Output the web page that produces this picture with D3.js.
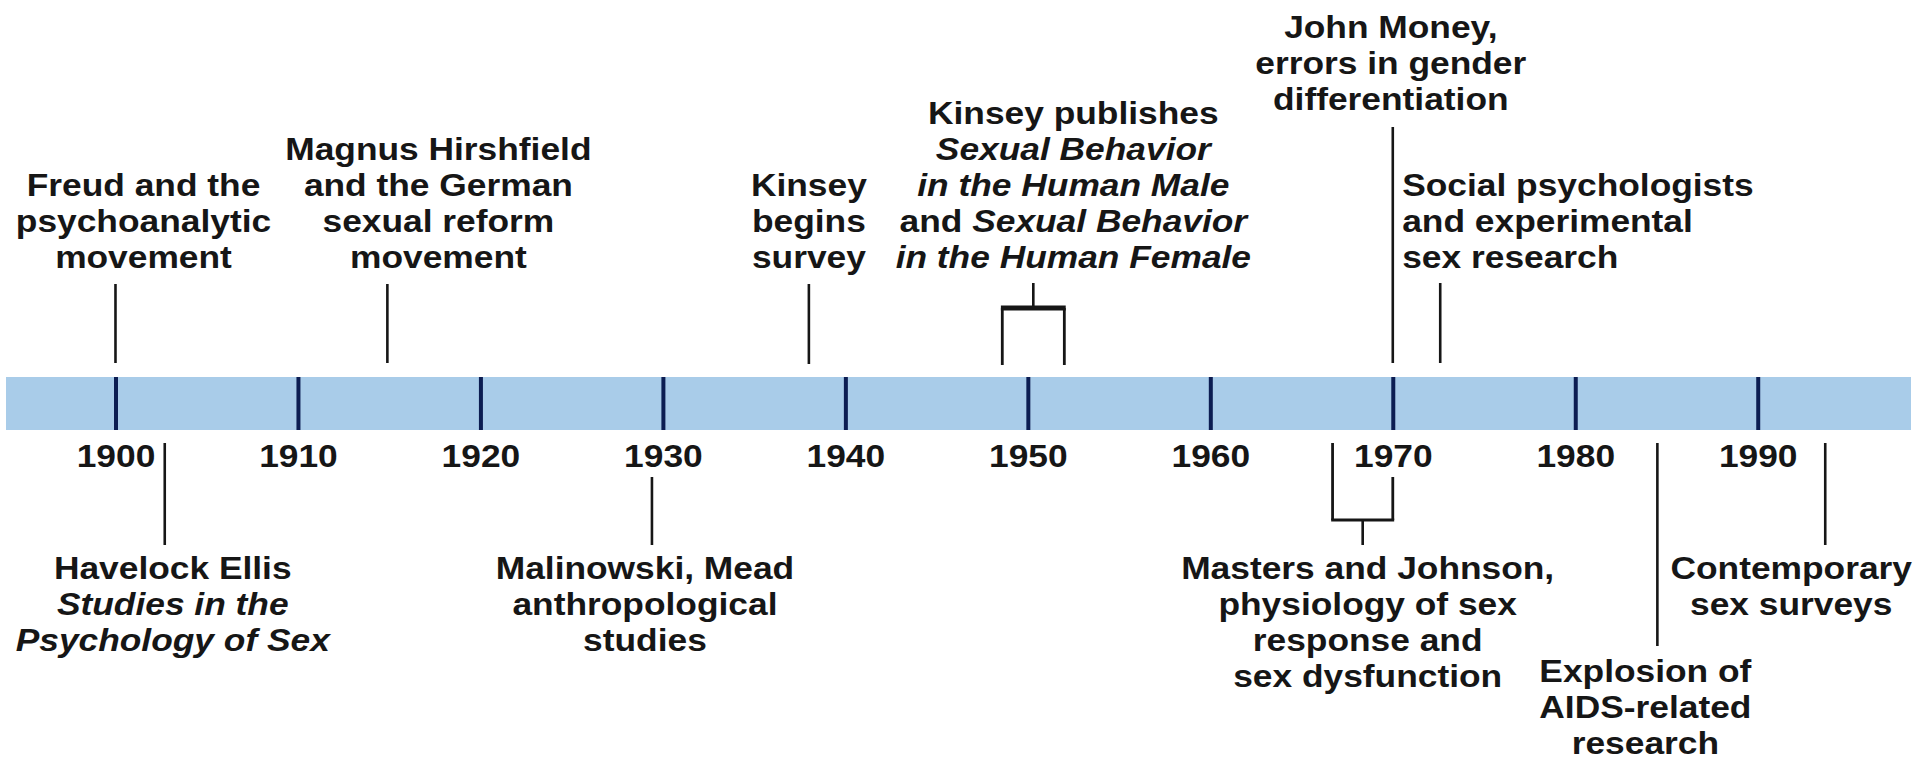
<!DOCTYPE html>
<html>
<head>
<meta charset="utf-8">
<script src="https://cdn.jsdelivr.net/npm/d3@7"></script>
<style>
  html, body { margin: 0; padding: 0; background: #ffffff; }
  svg { display: block; }
</style>
</head>
<body>
<svg id="chart" width="1917" height="761"></svg>
<script>
// ---------------- DATA ----------------
const tickYears = [1900, 1910, 1920, 1930, 1940, 1950, 1960, 1970, 1980, 1990];
const timelineExtent = [1894, 1998.4];

const eventNames = [
  "Freud", "Hirshfield", "Kinsey survey", "Kinsey publishes", "John Money",
  "Social psychologists", "Havelock Ellis", "Malinowski, Mead",
  "Masters and Johnson", "AIDS research", "Contemporary surveys"
];
const eventYears = [
  [1900], [1914.9], [1938], [1948.6, 1952], [1970],
  [1972.6], [1902.7], [1929.4], [1966.7, 1970], [1984.5], [1993.7]
];
const eventSides = [
  "above", "above", "above", "above", "above",
  "above", "below", "below", "below", "below", "below"
];
// *...* marks italic text
const eventLabels = [
  ["Freud and the", "psychoanalytic", "movement"],
  ["Magnus Hirshfield", "and the German", "sexual reform", "movement"],
  ["Kinsey", "begins", "survey"],
  ["Kinsey publishes", "*Sexual Behavior*", "*in the Human Male*", "and *Sexual Behavior*", "*in the Human Female*"],
  ["John Money,", "errors in gender", "differentiation"],
  ["Social psychologists", "and experimental", "sex research"],
  ["Havelock Ellis", "*Studies in the*", "*Psychology of Sex*"],
  ["Malinowski, Mead", "anthropological", "studies"],
  ["Masters and Johnson,", "physiology of sex", "response and", "sex dysfunction"],
  ["Explosion of", "AIDS-related", "research"],
  ["Contemporary", "sex surveys"]
];

// ---------------- LAYOUT (pixels, not data) ----------------
const W = 1917, H = 761;
const bandTop = 377, bandBottom = 430;
const lineGap = 36;
const fontSize = 31;
const stretchX = 1.14;
const labelDx = [28, 51, 0, 40, -2, -38, 8, -7, 5, -12, -34];
const labelAnchor = ["middle","middle","middle","middle","middle","start","middle","middle","middle","middle","middle"];
const labelFirstBaseline = [196, 160, 196, 124, 38, 196, 579, 579, 579, 682, 579];
// single leader lines: [y1, y2]
const leaderSpan = [
  [284, 363], [284, 363], [284, 364], null, [127, 363],
  [283, 363], [443, 545], [477, 545], null, [443, 646], [443, 545]
];
// brackets: legTops, legBottoms, barY, stem [y1,y2], barWidth
const bracketLayout = {
  3: { legTop: [308, 308], legBottom: [365, 365], barY: 308, stem: [283, 308], barW: 5 },
  8: { legTop: [443, 477], legBottom: [520, 520], barY: 520, stem: [520, 545], barW: 3 }
};

const bandColor = "#a9cce9";
const tickColor = "#0c1d52";
const inkColor = "#161616";
const fontFamily = "'Liberation Sans', Arial, Helvetica, sans-serif";

// ---------------- DRAW ----------------
const svg = d3.select("#chart");
const x = d3.scaleLinear().domain(timelineExtent).range([6, 1911]);

// band
svg.append("rect")
  .attr("x", x(timelineExtent[0]))
  .attr("y", bandTop)
  .attr("width", x(timelineExtent[1]) - x(timelineExtent[0]))
  .attr("height", bandBottom - bandTop)
  .attr("fill", bandColor);

// axis: ticks inside band + year labels
const axis = d3.axisBottom(x)
  .tickValues(tickYears)
  .tickSize(bandBottom - bandTop)
  .tickPadding(15)
  .tickFormat(d3.format("d"));

const gAxis = svg.append("g")
  .attr("transform", `translate(0,${bandTop})`)
  .call(axis);
gAxis.select(".domain").remove();
gAxis.selectAll(".tick line")
  .attr("stroke", tickColor)
  .attr("stroke-width", 4);
gAxis.selectAll(".tick text")
  .attr("fill", inkColor)
  .attr("font-family", fontFamily)
  .attr("font-weight", "bold")
  .attr("font-size", fontSize)
  .attr("transform", `scale(${stretchX},1)`);

// leaders
const gLead = svg.append("g")
  .attr("stroke", inkColor)
  .attr("fill", "none");

eventYears.forEach((yrs, i) => {
  if (yrs.length === 1) {
    const [y1, y2] = leaderSpan[i];
    gLead.append("line")
      .attr("x1", x(yrs[0])).attr("x2", x(yrs[0]))
      .attr("y1", y1).attr("y2", y2)
      .attr("stroke-width", 2.6);
  } else {
    const b = bracketLayout[i];
    const xs = yrs.map(x);
    const mid = (xs[0] + xs[1]) / 2;
    xs.forEach((xx, k) => {
      gLead.append("line")
        .attr("x1", xx).attr("x2", xx)
        .attr("y1", b.legTop[k]).attr("y2", b.legBottom[k])
        .attr("stroke-width", 2.8);
    });
    gLead.append("line")
      .attr("x1", xs[0] - 1.4).attr("x2", xs[1] + 1.4)
      .attr("y1", b.barY).attr("y2", b.barY)
      .attr("stroke-width", b.barW);
    gLead.append("line")
      .attr("x1", mid).attr("x2", mid)
      .attr("y1", b.stem[0]).attr("y2", b.stem[1])
      .attr("stroke-width", 2.6);
  }
});

// labels
const gLab = svg.append("g")
  .attr("fill", inkColor)
  .attr("font-family", fontFamily)
  .attr("font-weight", "bold")
  .attr("font-size", fontSize);

eventLabels.forEach((lines, i) => {
  const yrs = eventYears[i];
  const anchorX = yrs.length === 1 ? x(yrs[0]) : (x(yrs[0]) + x(yrs[1])) / 2;
  const t = gLab.append("text")
    .attr("text-anchor", labelAnchor[i])
    .attr("transform", `translate(${anchorX + labelDx[i]},${labelFirstBaseline[i]}) scale(${stretchX},1)`);
  lines.forEach((line, li) => {
    const parts = line.split("*");
    let first = true;
    parts.forEach((p, pi) => {
      if (p === "") return;
      const ts = t.append("tspan").text(p);
      if (pi % 2 === 1) ts.attr("font-style", "italic");
      if (first) {
        ts.attr("x", 0).attr("y", li * lineGap);
        first = false;
      }
    });
  });
});
</script>
</body>
</html>
